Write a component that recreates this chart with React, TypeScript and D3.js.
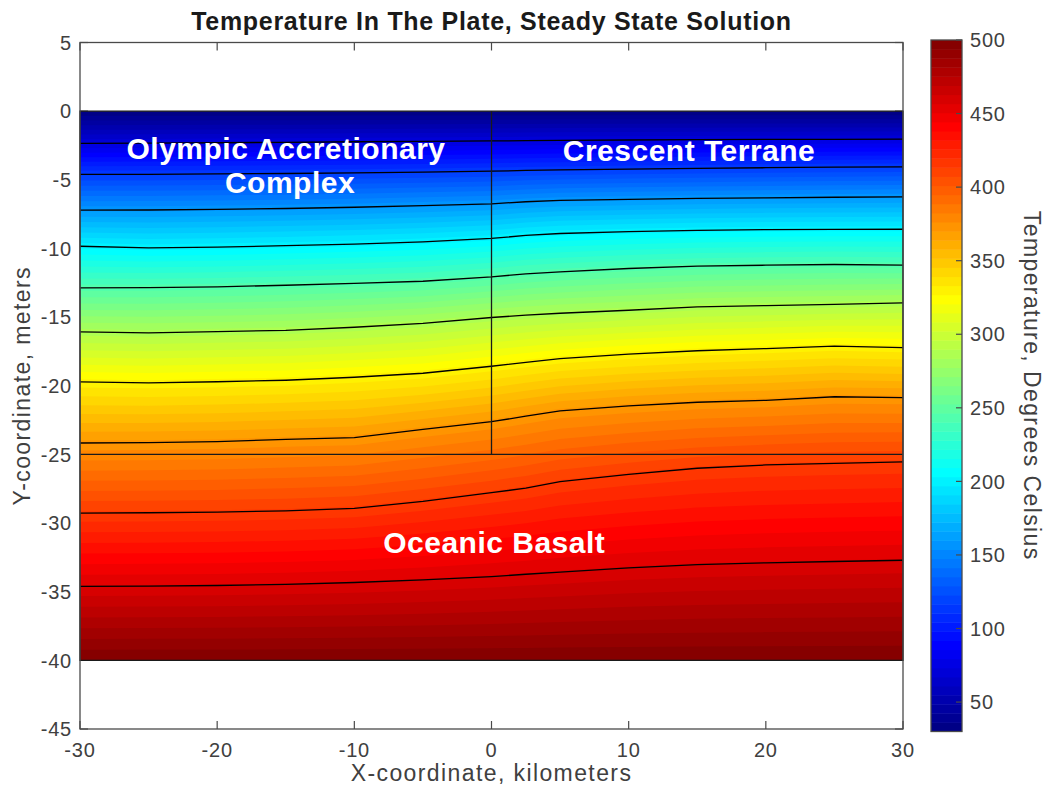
import React from "react";
import * as d3 from "d3";

// Axis ticks
const xTicks = [-30, -20, -10, 0, 10, 20, 30];
const yTicks = [5, 0, -5, -10, -15, -20, -25, -30, -35, -40, -45];
const colorTicks = [50, 100, 150, 200, 250, 300, 350, 400, 450, 500];

// Plate geometry (km across, m deep)
const plateLeft = -30;
const plateRight = 30;
const plateTop = 0;
const plateBottom = -40;
const layerBoundary = -25;
const terraneContact = 0;

// Boundary temperatures (deg C)
const surfaceTemp = 30;
const baseTemp = 500;

// Isotherm levels and their depths at each sampled x position
const xSamples = [-30, -25, -20, -15, -10, -5, 0, 2.5, 5, 10, 15, 20, 25, 30];
const isothermLevels = [72.7, 115.5, 158.2, 200.9, 243.6, 286.4, 329.1, 371.8, 414.5, 457.3];
const iso073 = [-2.35, -2.33, -2.3, -2.27, -2.23, -2.2, -2.17, -2.15, -2.13, -2.1, -2.08, -2.06, -2.05, -2.04];
const iso116 = [-4.61, -4.6, -4.57, -4.54, -4.5, -4.44, -4.37, -4.32, -4.28, -4.22, -4.17, -4.12, -4.08, -4.06];
const iso158 = [-7.21, -7.2, -7.15, -7.09, -7.0, -6.88, -6.75, -6.6, -6.5, -6.42, -6.36, -6.31, -6.27, -6.24];
const iso201 = [-9.84, -9.96, -9.9, -9.8, -9.68, -9.52, -9.27, -9.05, -8.91, -8.78, -8.68, -8.63, -8.61, -8.6];
const iso244 = [-12.87, -12.86, -12.8, -12.68, -12.55, -12.39, -12.07, -11.85, -11.7, -11.46, -11.29, -11.22, -11.17, -11.22];
const iso286 = [-16.08, -16.15, -16.06, -15.96, -15.74, -15.45, -15.03, -14.86, -14.72, -14.5, -14.26, -14.16, -14.07, -13.96];
const iso329 = [-19.72, -19.79, -19.71, -19.6, -19.38, -19.09, -18.58, -18.29, -18.03, -17.7, -17.45, -17.29, -17.12, -17.22];
const iso372 = [-24.17, -24.14, -24.07, -23.9, -23.78, -23.17, -22.62, -22.22, -21.83, -21.46, -21.2, -21.06, -20.8, -20.86];
const iso415 = [-29.27, -29.25, -29.2, -29.11, -28.93, -28.42, -27.79, -27.46, -26.99, -26.45, -26.01, -25.77, -25.65, -25.55];
const iso457 = [-34.61, -34.59, -34.55, -34.46, -34.33, -34.14, -33.9, -33.73, -33.57, -33.26, -33.03, -32.9, -32.8, -32.71];
const isotherms = [iso073, iso116, iso158, iso201, iso244, iso286, iso329, iso372, iso415, iso457];

// Unit labels (each may span several lines)
const unitNames = [["Olympic Accretionary", "Complex"], ["Crescent Terrane"], ["Oceanic Basalt"]];
const unitX = [[-14.98, -14.69], [14.4], [0.2]];
const unitY = [-3.48, -3.6, -32.2];

const nBands = 76;

function jet(t: number) {
  const c = (v: number) => Math.max(0, Math.min(1, v));
  const r = c(1.5 - Math.abs(4 * t - 3));
  const g = c(1.5 - Math.abs(4 * t - 2));
  const b = c(1.5 - Math.abs(4 * t - 1));
  return d3.rgb(r * 255, g * 255, b * 255).formatHex();
}

// depth of a temperature at sample column i, linear between isotherms
function depthAt(i: number, temp: number) {
  const ts = [surfaceTemp, ...isothermLevels, baseTemp];
  const ds = [plateTop, ...isotherms.map((a) => a[i]), plateBottom];
  for (let k = 0; k < ts.length - 1; k++) {
    if (temp <= ts[k + 1]) {
      const f = (temp - ts[k]) / (ts[k + 1] - ts[k]);
      return ds[k] + f * (ds[k + 1] - ds[k]);
    }
  }
  return plateBottom;
}

const FONT = "'Liberation Sans', Arial, Helvetica, sans-serif";
const AXIS = "#4a4a4a";

export default function App() {
  const width = 1050;
  const height = 788;
  const x = d3.scaleLinear().domain([-30, 30]).range([80, 903]);
  const y = d3.scaleLinear().domain([-45, 5]).range([729, 42.5]);
  const cbar = d3.scaleLinear().domain([surfaceTemp, baseTemp]).range([731.5, 40]);
  const cbX = 931;
  const cbW = 31;

  const edges = d3.range(nBands + 1).map((k) => surfaceTemp + (k * (baseTemp - surfaceTemp)) / nBands);
  const idx = d3.range(xSamples.length);

  const bandArea = (temp: number) =>
    d3
      .area<number>()
      .x((i) => x(xSamples[i]))
      .y0(y(plateBottom))
      .y1((i) => y(depthAt(i, temp)))(idx) as string;

  const isoLine = d3
    .line<number>()
    .x((_, j) => x(xSamples[j]))
    .y((d) => y(d));

  const [x0, x1] = x.range();
  const [yb, yt] = y.range();

  return (
    <svg width={width} height={height} style={{ position: "absolute", left: 0, top: 0 }} fontFamily={FONT}>
      <rect width={width} height={height} fill="#fff" />

      {/* ticks (drawn beneath the field) */}
      {xTicks.map((t) => (
        <g key={"xt" + t} stroke={AXIS} strokeWidth={1.2}>
          <line x1={x(t)} x2={x(t)} y1={yb} y2={yb - 8} />
          <line x1={x(t)} x2={x(t)} y1={yt} y2={yt + 8} />
        </g>
      ))}
      {yTicks.map((t) => (
        <g key={"yt" + t} stroke={AXIS} strokeWidth={1.2}>
          <line x1={x0} x2={x0 + 8} y1={y(t)} y2={y(t)} />
          <line x1={x1} x2={x1 - 8} y1={y(t)} y2={y(t)} />
        </g>
      ))}

      {/* temperature field */}
      {edges.slice(0, nBands).map((e, k) => (
        <path key={"b" + k} d={bandArea(e)} fill={jet((k + 0.5) / nBands)} />
      ))}

      {/* isotherms */}
      {isotherms.map((arr, k) => (
        <path key={"iso" + k} d={isoLine(arr) as string} fill="none" stroke="#000" strokeWidth={1.3} />
      ))}

      {/* plate outline and unit boundaries */}
      <g stroke="#1a1a1a" strokeWidth={1.3} fill="none">
        <rect x={x(plateLeft)} y={y(plateTop)} width={x(plateRight) - x(plateLeft)} height={y(plateBottom) - y(plateTop)} />
        <line x1={x(plateLeft)} x2={x(plateRight)} y1={y(layerBoundary)} y2={y(layerBoundary)} />
        <line x1={x(terraneContact)} x2={x(terraneContact)} y1={y(plateTop)} y2={y(layerBoundary)} />
      </g>

      {/* unit labels */}
      {unitNames.map((lines, i) => (
        <text
          key={lines[0]}
          y={y(unitY[i])}
          textAnchor="middle"
          fill="#fff"
          fontWeight="bold"
          fontSize={30}
          letterSpacing={0.5}
        >
          {lines.map((ln, j) => (
            <tspan key={ln} x={x(unitX[i][j])} dy={j === 0 ? 0 : 34}>
              {ln}
            </tspan>
          ))}
        </text>
      ))}

      {/* axes box */}
      <rect x={x0} y={yt} width={x1 - x0} height={yb - yt} fill="none" stroke={AXIS} strokeWidth={1.3} />

      {xTicks.map((t) => (
        <text key={"xl" + t} x={x(t)} y={757} textAnchor="middle" fontSize={20} fill="#404040" letterSpacing={0.8}>
          {t}
        </text>
      ))}
      {yTicks.map((t) => (
        <text key={"yl" + t} x={72} y={y(t)} dy="0.36em" textAnchor="end" fontSize={20} fill="#404040" letterSpacing={0.8}>
          {t}
        </text>
      ))}

      <text x={(x0 + x1) / 2} y={781} textAnchor="middle" fontSize={23} fill="#404040" letterSpacing={1.4}>
        X-coordinate, kilometers
      </text>
      <text
        transform={`translate(30, ${(y(5) + y(-45)) / 2}) rotate(-90)`}
        textAnchor="middle"
        fontSize={23}
        fill="#404040"
        letterSpacing={1.4}
      >
        Y-coordinate, meters
      </text>
      <text x={(x0 + x1) / 2} y={30} textAnchor="middle" fontSize={25} fontWeight="bold" fill="#1a1a1a" letterSpacing={0.7}>
        Temperature In The Plate, Steady State Solution
      </text>

      {/* colorbar */}
      {edges.slice(0, nBands).map((e, k) => (
        <rect
          key={"cb" + k}
          x={cbX}
          y={cbar(edges[k + 1])}
          width={cbW}
          height={cbar(e) - cbar(edges[k + 1]) + 0.5}
          fill={jet((k + 0.5) / nBands)}
        />
      ))}
      <rect x={cbX} y={cbar(baseTemp)} width={cbW} height={cbar(surfaceTemp) - cbar(baseTemp)} fill="none" stroke={AXIS} strokeWidth={1.3} />
      {colorTicks.map((t) => (
        <g key={"ct" + t}>
          <line x1={cbX + cbW} x2={cbX + cbW - 6} y1={cbar(t)} y2={cbar(t)} stroke={AXIS} strokeWidth={1.2} />
          <text x={970} y={cbar(t)} dy="0.36em" fontSize={20} fill="#404040" letterSpacing={0.8}>
            {t}
          </text>
        </g>
      ))}
      <text
        transform={`translate(1024, ${(cbar(baseTemp) + cbar(surfaceTemp)) / 2}) rotate(90)`}
        textAnchor="middle"
        fontSize={23}
        fill="#404040"
        letterSpacing={1.4}
      >
        Temperature, Degrees Celsius
      </text>
    </svg>
  );
}
